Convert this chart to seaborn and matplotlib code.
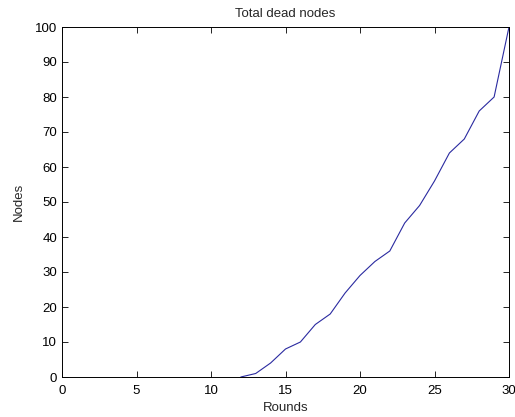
import matplotlib
matplotlib.use("Agg")
import matplotlib.pyplot as plt
import seaborn as sns
import pandas as pd

rounds = [12, 13, 14, 15, 16, 17, 18, 19, 20, 21, 22, 23, 24, 25, 26, 27, 28, 29, 30]
dead_nodes = [0, 1, 4, 8, 10, 15, 18, 24, 29, 33, 36, 44, 49, 56, 64, 68, 76, 80, 100]
x_ticks = [0, 5, 10, 15, 20, 25, 30]
y_ticks = [0, 10, 20, 30, 40, 50, 60, 70, 80, 90, 100]

sns.set_style("ticks")
plt.rcParams['font.family'] = ['Liberation Sans', 'DejaVu Sans']

df = pd.DataFrame({"Rounds": rounds, "Nodes": dead_nodes})

fig = plt.figure(figsize=(5.15, 4.17), dpi=100)
ax = fig.add_axes([62/515, 1-377/417, (509-62)/515, (377-27)/417])
sns.lineplot(data=df, x="Rounds", y="Nodes", ax=ax, color="#2a2aa0", linewidth=0.8)

ax.set_xlim(0, 30)
ax.set_ylim(0, 100)
ax.set_xticks(x_ticks)
ax.set_yticks(y_ticks)
ax.tick_params(direction="in", top=True, right=True, labelsize=9.5, length=4, width=0.6, colors="black")
ax.tick_params(axis="x", pad=5.5)
ax.tick_params(axis="y", pad=3.5)
for s in ax.spines.values():
    s.set_linewidth(0.7)
    s.set_color("black")
ax.set_title("Total dead nodes", fontsize=9.5, pad=7)
ax.set_xlabel("Rounds", fontsize=9.5, labelpad=4)
ax.set_ylabel("Nodes", fontsize=9.5, labelpad=7)

fig.savefig("out.png", dpi=100, facecolor="white")
